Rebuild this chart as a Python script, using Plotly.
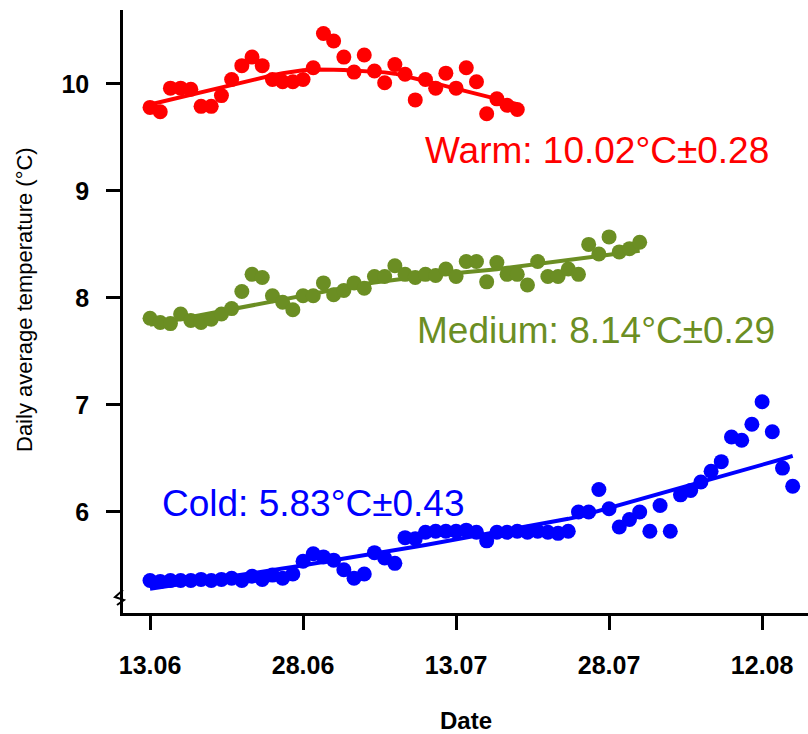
import numpy as np
import plotly.graph_objects as go

# ---- data (day index from 13.06) ----
warm_days = list(range(37))
warm_temp = [9.78, 9.74, 9.96, 9.96, 9.95, 9.79, 9.79, 9.89, 10.04, 10.17,
             10.25, 10.17, 10.04, 10.02, 10.02, 10.04, 10.15, 10.47, 10.40, 10.25,
             10.11, 10.27, 10.12, 10.01, 10.18, 10.09, 9.85, 10.04, 9.96, 10.10,
             9.96, 10.15, 10.02, 9.72, 9.86, 9.80, 9.76]

medium_days = list(range(49))
medium_temp = [7.81, 7.77, 7.76, 7.85, 7.79, 7.77, 7.80, 7.85, 7.90, 8.06,
               8.22, 8.19, 8.02, 7.96, 7.89, 8.02, 8.02, 8.14, 8.03, 8.07,
               8.14, 8.09, 8.20, 8.20, 8.30, 8.22, 8.19, 8.22, 8.21, 8.27,
               8.20, 8.34, 8.34, 8.15, 8.33, 8.22, 8.22, 8.12, 8.34, 8.20,
               8.20, 8.27, 8.22, 8.50, 8.41, 8.57, 8.43, 8.46, 8.52]

cold_days = list(range(64))
cold_temp = [5.36, 5.35, 5.36, 5.36, 5.36, 5.37, 5.36, 5.37, 5.38, 5.36,
             5.40, 5.37, 5.41, 5.38, 5.42, 5.54, 5.61, 5.58, 5.55, 5.46,
             5.38, 5.42, 5.62, 5.57, 5.52, 5.76, 5.75, 5.81, 5.82, 5.82,
             5.82, 5.83, 5.81, 5.73, 5.81, 5.81, 5.82, 5.81, 5.82, 5.81,
             5.80, 5.82, 6.00, 6.00, 6.21, 6.03, 5.86, 5.93, 6.00, 5.82,
             6.06, 5.82, 6.16, 6.20, 6.28, 6.38, 6.47, 6.70, 6.67, 6.82,
             7.03, 6.75, 6.41, 6.24]

tick_days = [0, 15, 30, 45, 60]
tick_labels = ["13.06", "28.06", "13.07", "28.07", "12.08"]
y_ticks = [6, 7, 8, 9, 10]

labels = {
    "warm": "Warm: 10.02°C±0.28",
    "medium": "Medium: 8.14°C±0.29",
    "cold": "Cold: 5.83°C±0.43",
}

RED = "#FF0000"
GREEN = "#6B8E23"
BLUE = "#0000FF"


def lowess(x, y, f=2 / 3, iters=3):
    """Robust locally-linear smoother (R's lowess)."""
    x = np.asarray(x, float)
    y = np.asarray(y, float)
    n = len(x)
    r = int(np.ceil(f * n))
    rob = np.ones(n)
    fit = np.empty(n)
    for it in range(iters + 1):
        for i, xi in enumerate(x):
            d = np.abs(x - xi)
            h = max(np.sort(d)[r - 1], 1e-9)
            w = np.clip(1 - (d / h) ** 3, 0, None) ** 3 * rob
            sw = w.sum()
            xm = (w * x).sum() / sw
            ym = (w * y).sum() / sw
            sxx = (w * (x - xm) ** 2).sum()
            b = (w * (x - xm) * (y - ym)).sum() / sxx if sxx > 0 else 0.0
            fit[i] = ym + b * (xi - xm)
        res = y - fit
        s = np.median(np.abs(res))
        if s == 0:
            break
        u = res / (6 * s)
        rob = np.where(np.abs(u) < 1, (1 - u ** 2) ** 2, 0.0)
    return fit


fig = go.Figure()
for days, temp, col in [(warm_days, warm_temp, RED),
                        (medium_days, medium_temp, GREEN),
                        (cold_days, cold_temp, BLUE)]:
    fig.add_trace(go.Scatter(x=days, y=lowess(days, temp), mode="lines",
                             line=dict(color=col, width=4), showlegend=False,
                             hoverinfo="skip"))
    fig.add_trace(go.Scatter(x=days, y=temp, mode="markers",
                             marker=dict(color=col, size=15), showlegend=False))

W, H = 808, 734
L, R, T, B = 123, 0, 10, 121
pw, ph = W - L - R, H - T - B

fig.update_layout(
    width=W, height=H,
    margin=dict(l=L, r=R, t=T, b=B),
    plot_bgcolor="white", paper_bgcolor="white",
    font=dict(family="Liberation Sans, Arial, sans-serif", color="black"),
    xaxis=dict(range=[-2.65, 64.5], tickvals=tick_days, ticktext=tick_labels,
               showline=True, linecolor="black", linewidth=2.5,
               ticks="outside", ticklen=14, tickwidth=2.5, tickcolor="black",
               showgrid=False, zeroline=False,
               tickfont=dict(size=25, weight="bold"), ticklabelstandoff=14),
    yaxis=dict(range=[5.056, 10.69], tickvals=y_ticks,
               showline=True, linecolor="black", linewidth=2.5,
               ticks="outside", ticklen=14, tickwidth=2.5, tickcolor="black",
               showgrid=False, zeroline=False,
               tickfont=dict(size=25, weight="bold"), ticklabelstandoff=12),
)

ann = [
    dict(x=43.8, y=9.38, text=labels["warm"], color=RED),
    dict(x=43.7, y=7.70, text=labels["medium"], color=GREEN),
    dict(x=16.0, y=6.075, text=labels["cold"], color=BLUE),
]
for a in ann:
    fig.add_annotation(x=a["x"], y=a["y"], xref="x", yref="y", text=a["text"],
                       showarrow=False, xanchor="center", yanchor="middle",
                       font=dict(size=37, color=a["color"]))

fig.add_annotation(x=-(L - 24) / pw, y=(H - B - 300) / ph, xref="paper", yref="paper",
                   text="Daily average temperature (°C)", textangle=-90,
                   xanchor="center", yanchor="middle",
                   showarrow=False, font=dict(size=22))
fig.add_annotation(x=0.5, y=-(720 - (H - B)) / ph, xref="paper", yref="paper",
                   text="<b>Date</b>", showarrow=False,
                   xanchor="center", yanchor="middle", font=dict(size=24))

# axis break zigzag
def px(xp, yp):
    return (xp - L) / pw, (H - B - yp) / ph

pts = [px(123, 590), px(115, 597), px(124, 600), px(117, 605)]
path = "M " + " L ".join(f"{a:.5f},{b:.5f}" for a, b in pts)
fig.add_shape(type="path", path=path, xref="paper", yref="paper",
              line=dict(color="black", width=2))

fig.write_html("out.html")
